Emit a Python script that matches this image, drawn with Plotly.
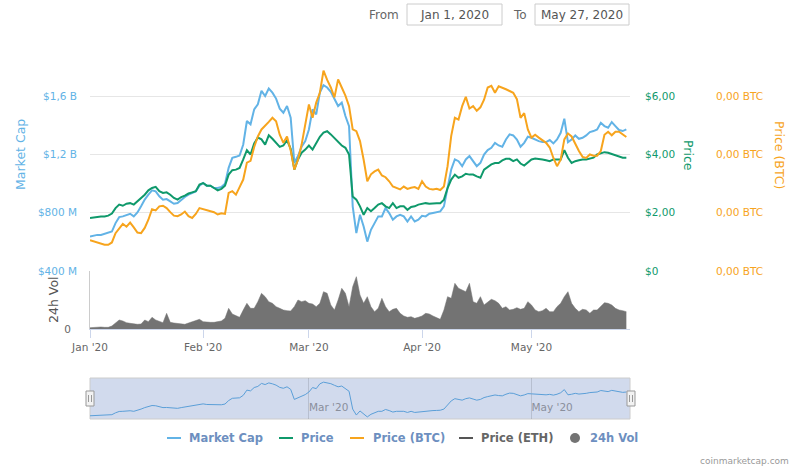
import pandas as pd
import plotly.graph_objects as go

# ---------------- data ----------------
dates = pd.date_range("2020-01-01", "2020-05-27", freq="D")

market_cap_b = [
    0.637, 0.644, 0.648, 0.648, 0.655, 0.660, 0.671, 0.729, 0.770, 0.775,
    0.786, 0.793, 0.775, 0.802, 0.844, 0.890, 0.924, 0.954, 0.947, 0.913,
    0.890, 0.894, 0.878, 0.862, 0.867, 0.890, 0.908, 0.924, 0.936, 0.947,
    0.986, 1.005, 0.986, 0.986, 0.970, 0.970, 0.977, 1.000, 1.108, 1.177,
    1.184, 1.193, 1.269, 1.430, 1.407, 1.510, 1.545, 1.637, 1.602, 1.653,
    1.625, 1.584, 1.515, 1.487, 1.533, 1.453, 1.143, 1.189, 1.253, 1.292,
    1.372, 1.510, 1.476, 1.625, 1.676, 1.660, 1.630, 1.579, 1.533, 1.556,
    1.464, 1.395, 0.844, 0.660, 0.786, 0.706, 0.602, 0.683, 0.729, 0.775,
    0.775, 0.832, 0.798, 0.752, 0.775, 0.786, 0.775, 0.740, 0.775, 0.740,
    0.752, 0.779, 0.775, 0.793, 0.798, 0.802, 0.809, 0.844, 0.959, 1.097,
    1.166, 1.154, 1.120, 1.166, 1.189, 1.154, 1.120, 1.143, 1.200, 1.230,
    1.246, 1.280, 1.262, 1.253, 1.303, 1.338, 1.331, 1.303, 1.253, 1.280,
    1.322, 1.315, 1.303, 1.292, 1.285, 1.285, 1.299, 1.276, 1.303, 1.349,
    1.446, 1.285, 1.303, 1.331, 1.308, 1.315, 1.331, 1.354, 1.361, 1.372,
    1.418, 1.395, 1.384, 1.423, 1.395, 1.368, 1.361, 1.372,
]

price_usd = [
    1.82, 1.84, 1.85, 1.87, 1.87, 1.90, 1.97, 2.16, 2.28, 2.24,
    2.31, 2.33, 2.28, 2.39, 2.51, 2.62, 2.77, 2.85, 2.89, 2.74,
    2.68, 2.70, 2.62, 2.51, 2.45, 2.54, 2.59, 2.66, 2.70, 2.74,
    2.97, 3.02, 2.93, 2.93, 2.85, 2.77, 2.82, 2.93, 3.31, 3.46,
    3.48, 3.54, 3.83, 4.15, 4.00, 4.38, 4.58, 4.52, 4.34, 4.66,
    4.54, 4.40, 4.26, 4.31, 4.49, 4.20, 3.48, 3.83, 4.06, 4.17,
    4.31, 4.17, 4.40, 4.61, 4.75, 4.80, 4.69, 4.57, 4.43, 4.31,
    4.23, 4.00, 2.56, 2.45, 2.22, 1.93, 2.16, 2.05, 2.16, 2.28,
    2.33, 2.22, 2.16, 2.33, 2.16, 2.22, 2.22, 2.10, 2.20, 2.22,
    2.28, 2.31, 2.33, 2.31, 2.33, 2.33, 2.33, 2.45, 2.85, 3.14,
    3.31, 3.20, 3.25, 3.34, 3.31, 3.31, 3.25, 3.20, 3.48, 3.57,
    3.66, 3.71, 3.71, 3.80, 3.85, 3.85, 3.77, 3.83, 3.69, 3.62,
    3.71, 3.83, 3.86, 3.85, 3.83, 3.80, 3.77, 3.83, 3.83, 3.83,
    4.15, 3.89, 3.71, 3.77, 3.80, 3.83, 3.83, 3.85, 3.89, 4.00,
    4.03, 4.08, 4.06, 4.02, 3.97, 3.92, 3.89, 3.89,
]

price_btc_e4 = [  # price in units of 0.0001 BTC
    2.53, 2.51, 2.48, 2.47, 2.45, 2.45, 2.49, 2.65, 2.74, 2.81,
    2.76, 2.83, 2.75, 2.66, 2.65, 2.74, 2.88, 3.06, 3.04, 3.11,
    3.12, 3.08, 3.01, 2.95, 2.94, 2.97, 3.02, 2.94, 2.91, 2.98,
    3.08, 3.06, 3.05, 3.02, 3.01, 2.97, 2.99, 2.98, 3.34, 3.37,
    3.31, 3.44, 3.57, 3.86, 3.89, 4.13, 4.31, 4.43, 4.49, 4.56,
    4.63, 4.57, 4.34, 4.20, 4.31, 4.07, 3.74, 3.91, 4.17, 4.52,
    4.86, 4.63, 4.89, 5.06, 5.44, 5.28, 5.15, 4.98, 5.29, 5.15,
    5.01, 4.83, 4.43, 4.40, 4.23, 3.91, 3.54, 3.66, 3.71, 3.74,
    3.64, 3.61, 3.54, 3.45, 3.43, 3.40, 3.45, 3.41, 3.43, 3.44,
    3.41, 3.54, 3.45, 3.41, 3.40, 3.41, 3.39, 3.45, 3.80, 4.32,
    4.63, 4.60, 4.83, 4.99, 4.79, 4.83, 4.75, 4.81, 4.94, 5.15,
    5.18, 5.06, 5.17, 5.15, 5.12, 5.09, 5.06, 4.95, 4.63, 4.71,
    4.43, 4.29, 4.34, 4.29, 4.25, 4.20, 4.12, 3.94, 3.80, 3.91,
    4.26, 4.36, 4.31, 4.17, 4.06, 3.96, 3.94, 4.00, 3.98, 3.98,
    4.06, 4.34, 4.39, 4.33, 4.39, 4.39, 4.34, 4.30,
]

volume_m = [
    34, 43, 60, 52, 43, 43, 78, 147, 233, 207,
    164, 147, 129, 121, 129, 233, 190, 302, 233, 190,
    164, 405, 172, 155, 147, 129, 121, 155, 181, 207,
    250, 190, 172, 172, 172, 181, 207, 276, 534, 388,
    336, 302, 491, 664, 534, 534, 707, 922, 836, 707,
    664, 578, 534, 491, 474, 465, 578, 750, 707, 733,
    664, 647, 578, 664, 965, 922, 621, 491, 750, 1052,
    922, 578, 1095, 1353, 879, 664, 836, 578, 448, 534,
    793, 578, 448, 509, 534, 405, 336, 302, 319, 276,
    302, 336, 405, 388, 336, 293, 250, 491, 836, 793,
    1181, 1052, 1009, 965, 1181, 707, 664, 836, 621, 707,
    767, 733, 664, 534, 578, 491, 509, 552, 509, 534,
    707, 621, 491, 448, 474, 534, 448, 448, 578, 664,
    836, 965, 664, 534, 448, 509, 491, 405, 491, 491,
    578, 681, 664, 621, 534, 491, 474, 448,
]

mc_ticks_b = [0.4, 0.8, 1.2, 1.6, 2.0]
mc_tick_text = ["$400 M", "$800 M", "$1,2 B", "$1,6 B", ""]
price_ticks = [0, 2, 4, 6, 8]
price_tick_text = ["$0", "$2,00", "$4,00", "$6,00", ""]
btc_ticks_e4 = [2, 3, 4, 5, 6]
btc_tick_text = ["0,00 BTC", "0,00 BTC", "0,00 BTC", "0,00 BTC", ""]
month_ticks = ["2020-01-01", "2020-02-01", "2020-03-01", "2020-04-01", "2020-05-01"]
month_text = ["Jan '20", "Feb '20", "Mar '20", "Apr '20", "May '20"]
nav_ticks = ["2020-03-01", "2020-05-01"]
nav_text = ["Mar '20", "May '20"]
legend_items = ["Market Cap", "Price", "Price (BTC)", "Price (ETH)", "24h Vol"]

# ---------------- styling ----------------
W, H = 800, 468
FONT = "DejaVu Sans"
MC_C = "#62b3e6"
PR_C = "#0f996b"
BTC_C = "#f7a41d"
ETH_C = "#555555"
VOL_C = "#737373"
NAV_C = "#5b9fd8"
LEG_TXT = "#6d8fc0"
VOL_MAX = 1500

def px(x):
    return x / W

def py(y):
    return 1 - y / H

mc = [v * 1e9 for v in market_cap_b]
btc = [v * 1e-4 for v in price_btc_e4]
x_range = ["2020-01-01", "2020-05-28"]

fig = go.Figure()
fig.add_trace(go.Scatter(x=dates, y=mc, name="Market Cap", mode="lines",
                         line=dict(color=MC_C, width=2), xaxis="x", yaxis="y"))
fig.add_trace(go.Scatter(x=dates, y=price_usd, name="Price", mode="lines",
                         line=dict(color=PR_C, width=2), xaxis="x", yaxis="y3"))
fig.add_trace(go.Scatter(x=dates, y=btc, name="Price (BTC)", mode="lines",
                         line=dict(color=BTC_C, width=2), xaxis="x", yaxis="y4"))
fig.add_trace(go.Scatter(x=dates, y=volume_m, name="24h Vol", mode="lines",
                         fill="tozeroy", fillcolor=VOL_C,
                         line=dict(color=VOL_C, width=0.5), xaxis="x2", yaxis="y2"))
fig.add_trace(go.Scatter(x=dates, y=mc, name="nav", mode="lines",
                         line=dict(color=NAV_C, width=1), xaxis="x3", yaxis="y5"))

xdom = [px(90), px(630)]
tick_font = dict(family=FONT, size=10.5)

nav_lo, nav_hi = min(mc), max(mc)
span = nav_hi - nav_lo

fig.update_layout(
    width=W, height=H, margin=dict(l=0, r=0, t=0, b=0, pad=0, autoexpand=False),
    paper_bgcolor="white", plot_bgcolor="white", showlegend=False,
    font=dict(family=FONT, size=11, color="#666"),
    xaxis=dict(domain=xdom, anchor="y", range=x_range, matches="x2", automargin=False,
               showticklabels=False, showgrid=False, zeroline=False, ticks=""),
    xaxis2=dict(domain=xdom, anchor="y2", range=x_range, automargin=False,
                tickvals=month_ticks, ticktext=month_text,
                ticks="outside", ticklen=8, tickcolor="#ccd6eb",
                showline=True, linecolor="#ccd6eb", showgrid=False, zeroline=False,
                tickfont=dict(tick_font, color="#666")),
    xaxis3=dict(domain=xdom, anchor="y5", range=x_range, automargin=False,
                tickvals=nav_ticks, ticktext=nav_text, ticklabelposition="inside right",
                ticks="", showgrid=True, gridcolor="rgba(0,0,0,0.12)", showline=False,
                zeroline=False, tickfont=dict(tick_font, color="#8a8f9c")),
    yaxis=dict(domain=[py(271), py(38)], anchor="x", range=[0.4e9, 2.0e9], automargin=False,
               tickvals=[v * 1e9 for v in mc_ticks_b], ticktext=mc_tick_text,
               showgrid=True, gridcolor="#e6e6e6", zeroline=False, ticks="",
               ticklabelstandoff=12, tickfont=dict(tick_font, color=MC_C)),
    yaxis3=dict(overlaying="y", side="right", anchor="x", range=[0, 8], automargin=False,
                tickvals=price_ticks, ticktext=price_tick_text, showgrid=False,
                zeroline=False, ticks="", ticklabelstandoff=14,
                tickfont=dict(tick_font, color=PR_C)),
    yaxis4=dict(overlaying="y", side="right", anchor="free", position=px(704),
                automargin=False,
                range=[0.0002, 0.0006], tickvals=[v * 1e-4 for v in btc_ticks_e4],
                ticktext=btc_tick_text, showgrid=False, zeroline=False, ticks="",
                ticklabelstandoff=11, tickfont=dict(tick_font, color=BTC_C)),
    yaxis2=dict(domain=[py(329), py(271)], anchor="x2", range=[0, VOL_MAX], automargin=False,
                tickvals=[0, VOL_MAX], ticktext=["0", ""], showgrid=True,
                gridcolor="#e6e6e6", zeroline=False, showline=True, linecolor="#cccccc",
                ticks="", ticklabelstandoff=16, tickfont=dict(tick_font, color="#666")),
    yaxis5=dict(domain=[py(419), py(378)], anchor="x3", visible=False, automargin=False,
                range=[nav_lo - 0.06 * span, nav_hi + 0.12 * span]),
)

shapes = []
# navigator mask + border
shapes.append(dict(type="rect", xref="x3 domain", yref="y5 domain", x0=0, x1=1, y0=0, y1=1,
                   fillcolor="rgba(102,133,194,0.3)", line=dict(color="#cccccc", width=1),
                   layer="below"))
# navigator handles
for hx in (90, 631):
    shapes.append(dict(type="rect", xref="paper", yref="paper",
                       x0=px(hx - 4), x1=px(hx + 4), y0=py(406), y1=py(391),
                       fillcolor="#f2f2f2", line=dict(color="#999999", width=1)))
    for dx in (-1.5, 1.5):
        shapes.append(dict(type="line", xref="paper", yref="paper",
                           x0=px(hx + dx), x1=px(hx + dx), y0=py(402), y1=py(395),
                           line=dict(color="#999999", width=1)))
# date range input boxes
for x0, x1 in ((407, 502), (535, 629)):
    shapes.append(dict(type="rect", xref="paper", yref="paper",
                       x0=px(x0), x1=px(x1), y0=py(25), y1=py(4),
                       fillcolor="white", line=dict(color="#cccccc", width=1)))

annotations = []
def txt(x, y, s, color, size=12, angle=0, xanchor="center", weight="normal"):
    annotations.append(dict(x=px(x), y=py(y), xref="paper", yref="paper", text=s,
                            showarrow=False, textangle=angle, xanchor=xanchor,
                            yanchor="middle",
                            font=dict(family=FONT, size=size, color=color, weight=weight)))

# axis titles
txt(21, 155, "Market Cap", MC_C, 12.5, -90)
txt(53, 300, "24h Vol", "#555555", 12.5, -90)
txt(688, 155, "Price", PR_C, 12.5, 90)
txt(779, 155, "Price (BTC)", BTC_C, 12.5, 90)
# date range selector
txt(384, 15, "From", "#666666", 12)
txt(454, 15, "Jan 1, 2020", "#555555", 12)
txt(520, 15, "To", "#666666", 12)
txt(582, 15, "May 27, 2020", "#555555", 12)

# custom legend
leg_y = 438
leg_sym = [(167, MC_C), (279, PR_C), (350, BTC_C), (459, ETH_C)]
leg_txt_x = [187, 299, 371, 479, 588]
leg_cols = [LEG_TXT, LEG_TXT, LEG_TXT, "#666666", LEG_TXT]
for (sx, c) in leg_sym:
    shapes.append(dict(type="line", xref="paper", yref="paper",
                       x0=px(sx), x1=px(sx + 14), y0=py(leg_y), y1=py(leg_y),
                       line=dict(color=c, width=2)))
shapes.append(dict(type="circle", xref="paper", yref="paper",
                   x0=px(570), x1=px(580), y0=py(443), y1=py(433),
                   fillcolor=VOL_C, line=dict(color=VOL_C, width=0)))
for name, lx, c in zip(legend_items, leg_txt_x, leg_cols):
    txt(lx, leg_y, name, c, 11.5, 0, "left", "bold")

# credits
annotations.append(dict(x=px(791), y=py(461), xref="paper", yref="paper",
                        text="coinmarketcap.com", showarrow=False, xanchor="right",
                        yanchor="middle", font=dict(family=FONT, size=9, color="#999999")))

fig.update_layout(shapes=shapes, annotations=annotations)
fig.write_html("out.html")
